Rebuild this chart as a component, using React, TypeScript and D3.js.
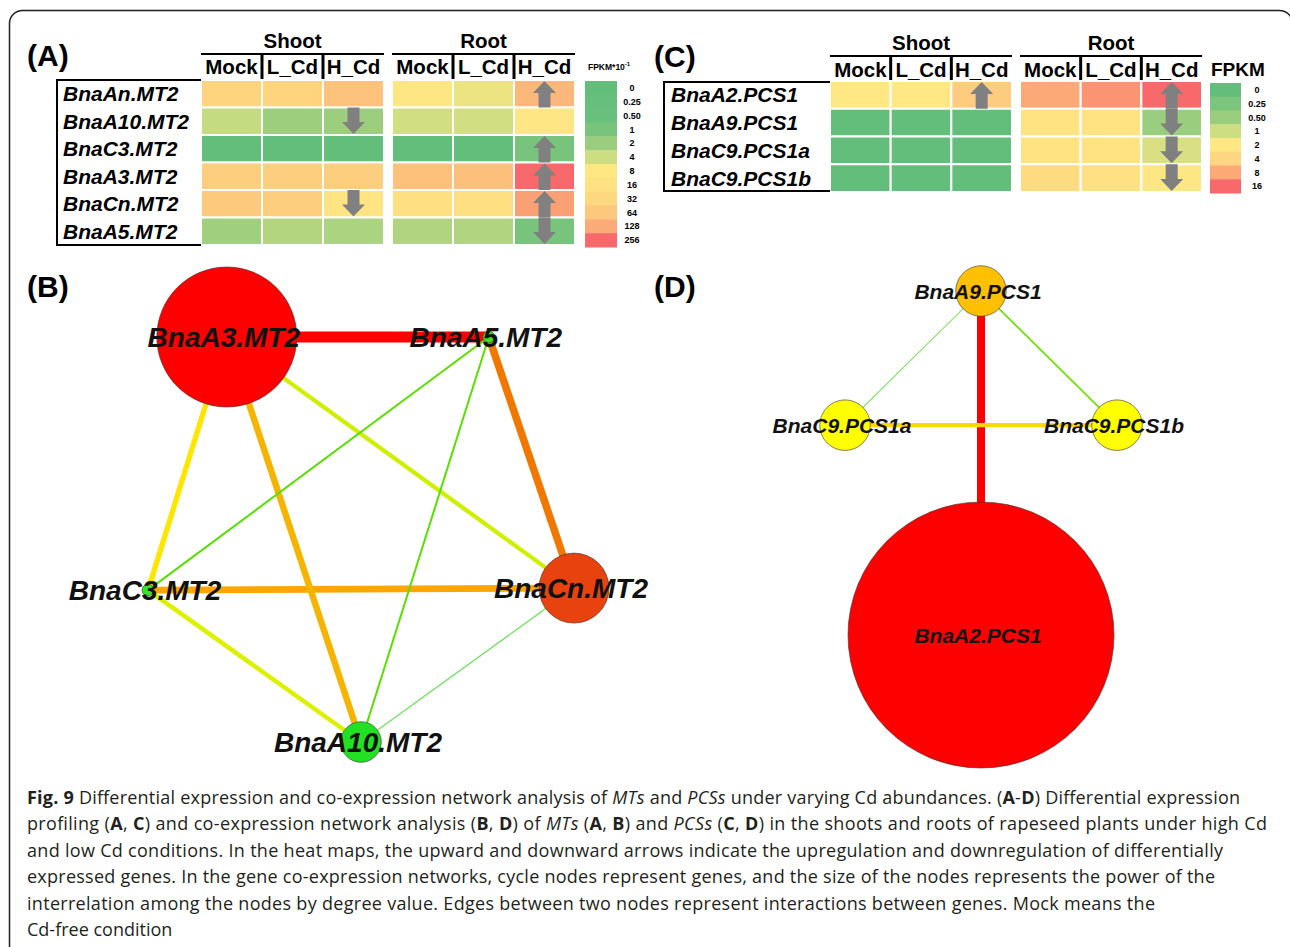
import React from 'react';
import * as d3 from 'd3';

// ---------------- shared ----------------
const conditions = ['Mock', 'L_Cd', 'H_Cd'];
const tissues = ['Shoot', 'Root'];

// ---------------- (A) heat map of MTs (FPKM*10^-1) ----------------
const mtGenes = ['BnaAn.MT2', 'BnaA10.MT2', 'BnaC3.MT2', 'BnaA3.MT2', 'BnaCn.MT2', 'BnaA5.MT2'];
const mtShoot = [[40, 40, 75], [3.7, 2.1, 2.1], [0, 0, 0], [50, 50, 50], [60, 50, 12], [2.2, 3.0, 2.7]];
const mtRoot = [[9, 6.5, 100], [4.5, 4.5, 9], [0, 0, 1], [78, 80, 256], [20, 20, 150], [2.9, 2.9, 1]];
const mtShootArrow = ['', 'down', '', '', 'down', ''];
const mtRootArrow = ['up', '', 'up', 'up', 'up', 'down'];
const mtLegendTicks = [0, 0.25, 0.5, 1, 2, 4, 8, 16, 32, 64, 128, 256];
const mtLegendLabels = ['0', '0.25', '0.50', '1', '2', '4', '8', '16', '32', '64', '128', '256'];
const mtLegendColors = ['#63BE7B', '#66BF7C', '#69C07C', '#78C47D', '#9BCD7E', '#CCDD82', '#FFE784', '#FEE182', '#FED880', '#FDC77D', '#FBAB77', '#F8696B'];

// ---------------- (C) heat map of PCSs (FPKM) ----------------
const pcsGenes = ['BnaA2.PCS1', 'BnaA9.PCS1', 'BnaC9.PCS1a', 'BnaC9.PCS1b'];
const pcsShoot = [[2, 2, 4.8], [0, 0, 0], [0, 0, 0], [0, 0, 0]];
const pcsRoot = [[8, 10.7, 16], [2.5, 2.5, 0.5], [2.5, 2.4, 1.25], [3.5, 2.8, 1.95]];
const pcsShootArrow = ['up', '', '', ''];
const pcsRootArrow = ['up', 'down', 'down', 'down'];
const pcsLegendTicks = [0, 0.25, 0.5, 1, 2, 4, 8, 16];
const pcsLegendLabels = ['0', '0.25', '0.50', '1', '2', '4', '8', '16'];
const pcsLegendColors = ['#63BE7B', '#7CC57D', '#9BCD7E', '#CCDD82', '#FFE784', '#FED580', '#FBAA77', '#F8696B'];

// ---------------- (B) co-expression network of MTs ----------------
const mtNodeNames = ['BnaA3.MT2', 'BnaA5.MT2', 'BnaC3.MT2', 'BnaCn.MT2', 'BnaA10.MT2'];
const mtNodeLayoutX = [0.185, 0.8, 0, 1, 0.5];
const mtNodeLayoutY = [0, 0, 0.625, 0.62, 1];
const mtNodeDegree = [10, 0.85, 0.85, 5, 2.9];
const mtNodeScore = [1, 0.05, 0.05, 0.9, 0];
const mtEdgeSource = ['BnaA3.MT2', 'BnaA5.MT2', 'BnaC3.MT2', 'BnaA3.MT2', 'BnaA3.MT2', 'BnaC3.MT2', 'BnaA3.MT2', 'BnaA5.MT2', 'BnaA5.MT2', 'BnaCn.MT2'];
const mtEdgeTarget = ['BnaA5.MT2', 'BnaCn.MT2', 'BnaCn.MT2', 'BnaA10.MT2', 'BnaC3.MT2', 'BnaA10.MT2', 'BnaCn.MT2', 'BnaC3.MT2', 'BnaA10.MT2', 'BnaA10.MT2'];
const mtEdgeWeight = [1, 0.9, 0.82, 0.76, 0.62, 0.5, 0.48, 0.3, 0.3, 0.2];

// ---------------- (D) co-expression network of PCSs ----------------
const pcsNodeNames = ['BnaA9.PCS1', 'BnaC9.PCS1a', 'BnaC9.PCS1b', 'BnaA2.PCS1'];
const pcsNodeLayoutX = [0.5, 0, 1, 0.5];
const pcsNodeLayoutY = [0, 0.39, 0.39, 1];
const pcsNodeDegree = [1.9, 1.9, 1.9, 10];
const pcsNodeScore = [0.65, 0.5, 0.5, 1];
const pcsEdgeSource = ['BnaA9.PCS1', 'BnaC9.PCS1a', 'BnaA9.PCS1', 'BnaA9.PCS1'];
const pcsEdgeTarget = ['BnaA2.PCS1', 'BnaC9.PCS1b', 'BnaC9.PCS1b', 'BnaC9.PCS1a'];
const pcsEdgeWeight = [1, 0.68, 0.33, 0.22];

// ---------------- caption ----------------
type Seg = [string, string];
const captionLines: Seg[][] = [
  [['Fig. 9', 'b'], [' Differential expression and co-expression network analysis of ', 'n'], ['MTs', 'i'], [' and ', 'n'], ['PCSs', 'i'], [' under varying Cd abundances. (', 'n'], ['A', 'b'], ['-', 'n'], ['D', 'b'], [') Differential expression', 'n']],
  [['profiling (', 'n'], ['A', 'b'], [', ', 'n'], ['C', 'b'], [') and co-expression network analysis (', 'n'], ['B', 'b'], [', ', 'n'], ['D', 'b'], [') of ', 'n'], ['MTs', 'i'], [' (', 'n'], ['A', 'b'], [', ', 'n'], ['B', 'b'], [') and ', 'n'], ['PCSs', 'i'], [' (', 'n'], ['C', 'b'], [', ', 'n'], ['D', 'b'], [') in the shoots and roots of rapeseed plants under high Cd', 'n']],
  [['and low Cd conditions. In the heat maps, the upward and downward arrows indicate the upregulation and downregulation of differentially', 'n']],
  [['expressed genes. In the gene co-expression networks, cycle nodes represent genes, and the size of the nodes represents the power of the', 'n']],
  [['interrelation among the nodes by degree value. Edges between two nodes represent interactions between genes. Mock means the', 'n']],
  [['Cd-free condition', 'n']],
];
const captionWidths = [1213, 1240, 1196, 1188, 1128, 0];

const FONT = 'Liberation Sans, Arial, sans-serif';

function arrowPoints(cx: number, top: number, h: number, dir: string) {
  const hw = 11.5, sw = 6, hh = 12;
  let pts: number[][];
  if (dir === 'up') {
    const tip = top + 1, base = tip + hh, bottom = top + h;
    pts = [[cx, tip], [cx + hw, base], [cx + sw, base], [cx + sw, bottom], [cx - sw, bottom], [cx - sw, base], [cx - hw, base]];
  } else {
    const tip = top + h - 1, base = tip - hh;
    pts = [[cx, tip], [cx + hw, base], [cx + sw, base], [cx + sw, top], [cx - sw, top], [cx - sw, base], [cx - hw, base]];
  }
  return pts.map(p => p.join(',')).join(' ');
}

function Heatmap(props: any) {
  const { genes, shoot, root, shootArrow, rootArrow, ticks, tickLabels, colors, L, title } = props;
  const color = d3.scaleLinear<string>().domain(ticks).range(colors).clamp(true);
  const group = d3.scaleBand<string>().domain(tissues).range([L.x0, L.x1]).paddingInner(L.pad);
  const col = d3.scaleBand<string>().domain(conditions).range([0, group.bandwidth()]);
  const row = d3.scaleBand<string>().domain(genes).range([L.y0, L.y1]);
  const lrow = d3.scaleBand<string>().domain(tickLabels).range([L.ly0, L.ly1]);
  const data: any = { Shoot: shoot, Root: root };
  const arrows: any = { Shoot: shootArrow, Root: rootArrow };
  return (
    <g fontFamily={FONT}>
      {tissues.map(t => {
        const gx = group(t) as number;
        return (
          <g key={t}>
            <text x={gx + group.bandwidth() / 2} y={L.titleY} textAnchor="middle" fontSize={20.5} fontWeight="bold">{t}</text>
            <line x1={gx} x2={gx + group.bandwidth()} y1={L.lineY} y2={L.lineY} stroke="#000" strokeWidth={2} />
            {conditions.map(c => (
              <text key={c} x={gx + (col(c) as number) + col.bandwidth() / 2} y={L.headY} textAnchor="middle" fontSize={20.5} fontWeight="bold">{c}</text>
            ))}
            {conditions.slice(1).map(c => (
              <line key={c} x1={gx + (col(c) as number)} x2={gx + (col(c) as number)} y1={L.lineY} y2={L.y0} stroke="#000" strokeWidth={3} />
            ))}
            {genes.map((g: string, gi: number) => conditions.map((c, ci) => (
              <rect key={g + c} x={gx + (col(c) as number)} y={row(g)} width={col.bandwidth()} height={row.bandwidth()}
                fill={color(data[t][gi][ci])} stroke="#fff" strokeWidth={2} />
            )))}
            {genes.map((g: string, gi: number) => arrows[t][gi] ? (
              <polygon key={'a' + g} points={arrowPoints(gx + (col('H_Cd') as number) + col.bandwidth() / 2, row(g) as number, row.bandwidth(), arrows[t][gi])} fill="#808080" />
            ) : null)}
          </g>
        );
      })}
      <path d={`M${L.x0},${L.boxTop} H${L.boxX} V${L.boxBottom} H${L.x0}`} fill="none" stroke="#000" strokeWidth={2} />
      {genes.map((g: string) => (
        <text key={g} x={L.labelX} y={(row(g) as number) + row.bandwidth() / 2 + 7.5} fontSize={21} fontWeight="bold" fontStyle="italic">{g}</text>
      ))}
      {tickLabels.map((lab: string, i: number) => (
        <g key={lab}>
          <rect x={L.lx0} y={lrow(lab)} width={L.lx1 - L.lx0} height={lrow.bandwidth() + 0.5} fill={colors[i]} />
          <text x={L.lcx} y={(lrow(lab) as number) + lrow.bandwidth() / 2 + 3.2} textAnchor="middle" fontSize={9} fontWeight="bold">{lab}</text>
        </g>
      ))}
      {title}
    </g>
  );
}

function Network(props: any) {
  const { names, lx, ly, degree, score, src, tgt, weight, xRange, yRange, rMax, wMax, fontSize } = props;
  const x = d3.scaleLinear().domain([0, 1]).range(xRange);
  const y = d3.scaleLinear().domain([0, 1]).range(yRange);
  const r = d3.scaleLinear().domain([0, 10]).range([0, rMax]);
  const nodeColor = d3.scaleLinear<string>().domain([0, 0.5, 0.65, 0.9, 1]).range(['#22e022', '#ffff00', '#ffc000', '#e8420e', '#ff0000']);
  const edgeColor = d3.scaleLinear<string>().domain([0.2, 0.3, 0.5, 0.62, 0.7, 0.76, 0.82, 0.9, 1])
    .range(['#74e064', '#5ade00', '#dcf000', '#ffe600', '#ffd400', '#f5b400', '#ffa500', '#f07800', '#ff0000']);
  const edgeWidth = d3.scaleLinear().domain([0.2, 0.3, 0.5, 0.9, 1]).range([1.3, 2, 4.5, 7.5, 11].map(v => v * wMax / 11));
  const idx = (n: string) => names.indexOf(n);
  const order = d3.range(weight.length).sort((a, b) => weight[b] - weight[a]);
  return (
    <g>
      {order.map(i => {
        const a = idx(src[i]), b = idx(tgt[i]);
        return <line key={i} x1={x(lx[a])} y1={y(ly[a])} x2={x(lx[b])} y2={y(ly[b])} stroke={edgeColor(weight[i])} strokeWidth={edgeWidth(weight[i])} />;
      })}
      {names.map((n: string, i: number) => (
        <circle key={n} cx={x(lx[i])} cy={y(ly[i])} r={r(degree[i])} fill={nodeColor(score[i])} stroke="#3a3a3a" strokeOpacity={0.7} strokeWidth={0.9} />
      ))}
      {names.map((n: string, i: number) => (
        <text key={'t' + n} x={x(lx[i]) - 3} y={y(ly[i]) + fontSize * 0.36} textAnchor="middle" fontFamily={FONT}
          fontSize={fontSize} fontWeight="bold" fontStyle="italic" fill="#111">{n}</text>
      ))}
    </g>
  );
}

export default function App() {
  const layoutA = { x0: 201, x1: 575, pad: 0.042, y0: 80, y1: 245, titleY: 48, lineY: 54, headY: 74, boxX: 57, boxTop: 80, boxBottom: 245, labelX: 63, lx0: 585, lx1: 617, ly0: 81, ly1: 247, lcx: 632 };
  const layoutC = { x0: 830, x1: 1202, pad: 0.042, y0: 81, y1: 192, titleY: 50, lineY: 56, headY: 77, boxX: 664, boxTop: 82, boxBottom: 191, labelX: 671, lx0: 1210, lx1: 1241, ly0: 83, ly1: 193, lcx: 1257 };
  const panelLabel = { fontFamily: FONT, fontSize: 30, fontWeight: 'bold' as const };
  return (
    <svg width={1290} height={947} style={{ position: 'absolute', left: 0, top: 0, background: '#fff' }}>
      <rect x={0} y={0} width={1290} height={947} fill="#fff" />
      <rect x={9.5} y={10.5} width={1283} height={1000} rx={13} fill="none" stroke="#231F20" strokeWidth={1.5} />

      <text x={27} y={66} {...panelLabel}>(A)</text>
      <text x={27} y={297} {...panelLabel}>(B)</text>
      <text x={654} y={67} {...panelLabel}>(C)</text>
      <text x={654} y={297} {...panelLabel}>(D)</text>

      <Heatmap genes={mtGenes} shoot={mtShoot} root={mtRoot} shootArrow={mtShootArrow} rootArrow={mtRootArrow}
        ticks={mtLegendTicks} tickLabels={mtLegendLabels} colors={mtLegendColors} L={layoutA}
        title={<text x={588} y={70} fontSize={8.5} fontWeight="bold">FPKM*10<tspan fontSize={6} dy={-4}>-1</tspan></text>} />
      <Heatmap genes={pcsGenes} shoot={pcsShoot} root={pcsRoot} shootArrow={pcsShootArrow} rootArrow={pcsRootArrow}
        ticks={pcsLegendTicks} tickLabels={pcsLegendLabels} colors={pcsLegendColors} L={layoutC}
        title={<text x={1211} y={76} fontSize={19} fontWeight="bold">FPKM</text>} />

      <Network names={mtNodeNames} lx={mtNodeLayoutX} ly={mtNodeLayoutY} degree={mtNodeDegree} score={mtNodeScore}
        src={mtEdgeSource} tgt={mtEdgeTarget} weight={mtEdgeWeight} xRange={[148, 574]} yRange={[337, 742]} rMax={70} wMax={11} fontSize={28} />
      <Network names={pcsNodeNames} lx={pcsNodeLayoutX} ly={pcsNodeLayoutY} degree={pcsNodeDegree} score={pcsNodeScore}
        src={pcsEdgeSource} tgt={pcsEdgeTarget} weight={pcsEdgeWeight} xRange={[845, 1117]} yRange={[291, 635]} rMax={133} wMax={8} fontSize={21} />

      <g fontFamily="'Open Sans', sans-serif" fontSize={18} fill="#231F20">
        {captionLines.map((line, li) => (
          <text key={li} x={27} y={804 + li * 26.4} style={{ whiteSpace: 'pre' }}
            {...(captionWidths[li] ? { textLength: captionWidths[li], lengthAdjust: 'spacing' } : {})}>
            {line.map((s, si) => (
              <tspan key={si} fontWeight={s[1] === 'b' ? 'bold' : 'normal'} fontStyle={s[1] === 'i' ? 'italic' : 'normal'}>{s[0]}</tspan>
            ))}
          </text>
        ))}
      </g>
    </svg>
  );
}
